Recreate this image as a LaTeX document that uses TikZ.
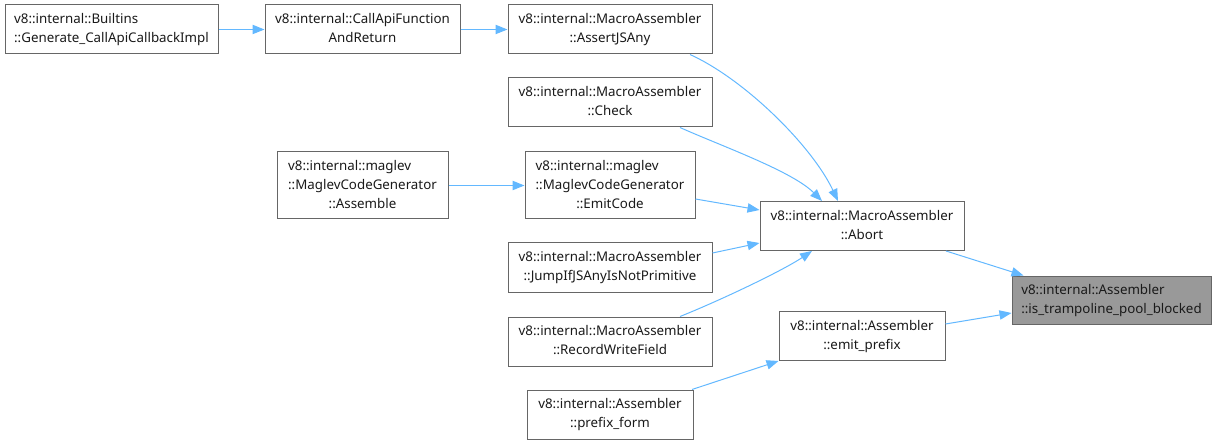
\documentclass[tikz,border=0pt]{standalone}
\usepackage{fontspec}
\setmainfont{Noto Sans}
\usetikzlibrary{arrows.meta,calc}
\definecolor{edgec}{HTML}{63B8FF}
\definecolor{bordc}{HTML}{666666}
\definecolor{hlc}{HTML}{999999}
\definecolor{txtc}{HTML}{1A1A1A}
\newcommand\twol[2]{\begin{tabular}{@{}l@{}}#1\\\multicolumn{1}{@{}c@{}}{#2}\end{tabular}}
\newcommand\threel[3]{\begin{tabular}{@{}l@{}}#1\\#2\\\multicolumn{1}{@{}c@{}}{#3}\end{tabular}}
\tikzset{
  fnbox/.style 2 args={draw=bordc, fill=white, line width=0.75pt, inner sep=0pt,
    minimum width=#1*0.75pt, minimum height=#2*0.75pt, text=txtc,
    font=\fontsize{10}{14.25}\selectfont},
  call/.style={draw=edgec, line width=0.75pt,
    -{Triangle[length=9pt,width=7pt]}},
}
\begin{document}
\begin{tikzpicture}[x=0.75pt,y=-0.75pt]
\useasboundingbox (0,0) rectangle (1216,445);
\node[fnbox={213}{49}] (builtins) at (111.5,29.5) {\twol{v8::internal::Builtins}{::Generate\_CallApiCallbackImpl}};
\node[fnbox={195}{49}] (callapi) at (362.5,29.5) {\twol{v8::internal::CallApiFunction}{AndReturn}};
\node[fnbox={204}{49}] (assert) at (610,29.5) {\twol{v8::internal::MacroAssembler}{::AssertJSAny}};
\node[fnbox={204}{49}] (check) at (610,102.5) {\twol{v8::internal::MacroAssembler}{::Check}};
\node[fnbox={171}{67}] (assemble) at (362.5,185.5) {\threel{v8::internal::maglev}{::MaglevCodeGenerator}{::Assemble}};
\node[fnbox={170}{67}] (emitcode) at (610,185.5) {\threel{v8::internal::maglev}{::MaglevCodeGenerator}{::EmitCode}};
\node[fnbox={204}{49}] (abort) at (862,226) {\twol{v8::internal::MacroAssembler}{::Abort}};
\node[fnbox={204}{49}] (jumpif) at (610,267.5) {\twol{v8::internal::MacroAssembler}{::JumpIfJSAnyIsNotPrimitive}};
\node[fnbox={204}{49}] (record) at (610,341.5) {\twol{v8::internal::MacroAssembler}{::RecordWriteField}};
\node[fnbox={166}{49}] (emitprefix) at (862,336) {\twol{v8::internal::Assembler}{::emit\_prefix}};
\node[fnbox={166}{49}] (prefixform) at (610,414.5) {\twol{v8::internal::Assembler}{::prefix\_form}};
\node[fnbox={199}{48}, fill=hlc] (tramp) at (1111.5,300) {\twol{v8::internal::Assembler}{::is\_trampoline\_pool\_blocked}};

\draw[call] (builtins) -- (callapi);
\draw[call] (callapi) -- (assert);
\draw[call] (assemble) -- (emitcode);
\draw[call] ($(assert.south)+(80,0)$) .. controls ($(assert.south)+(135,25)$) and ($(abort.north)+(-50,-55)$) .. ($(abort.north)+(-24,0)$);
\draw[call] ($(check.south)+(70,0)$) .. controls ($(check.south)+(110,18)$) and ($(abort.north)+(-70,-30)$) .. ($(abort.north)+(-40,0)$);
\draw[call] (emitcode.east |- 0,199) -- (abort.west |- 0,210);
\draw[call] (jumpif.east |- 0,253) -- (abort.west |- 0,243);
\draw[call] ($(record.north)+(70,0)$) .. controls ($(record.north)+(110,-16)$) and ($(abort.south)+(-80,20)$) .. ($(abort.south)+(-50,0)$);
\draw[call] ($(abort.south)+(84,0)$) -- ($(tramp.north west)+(12,0)$);
\draw[call] (emitprefix.east |- 0,324) -- (tramp.west |- 0,313);
\draw[call] ($(prefixform.north)+(82,0)$) -- ($(emitprefix.south west)+(0,0)$);
\end{tikzpicture}
\end{document}
